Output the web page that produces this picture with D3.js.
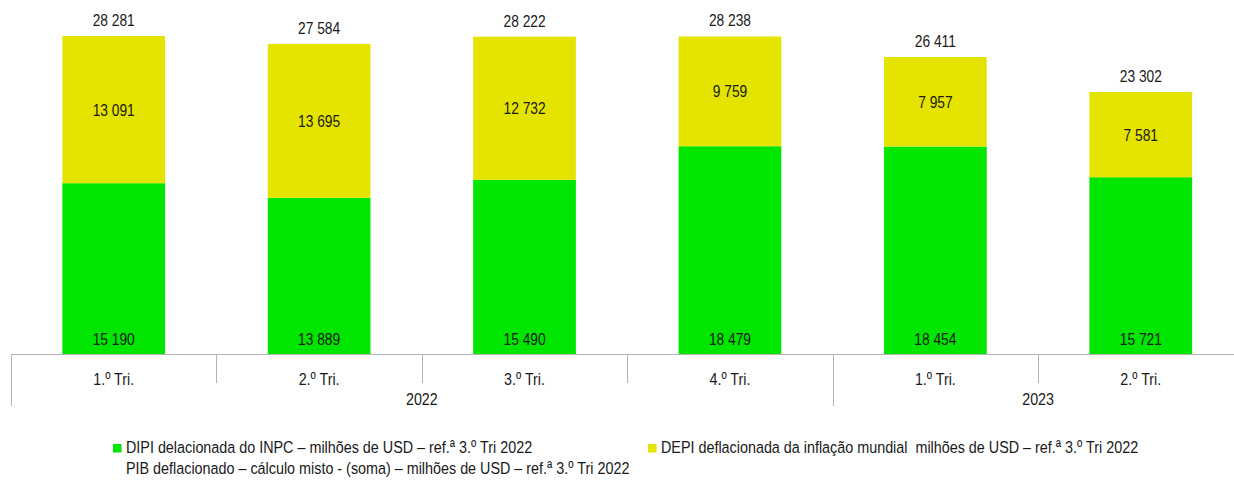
<!DOCTYPE html>
<html>
<head>
<meta charset="utf-8">
<script src="https://cdn.jsdelivr.net/npm/d3@7"></script>
<style>
  html, body { margin: 0; padding: 0; background: #fff; }
  svg { display: block; font-family: "Liberation Sans", Arial, sans-serif; }
  text { white-space: pre; }
</style>
</head>
<body>
<svg id="chart" width="1234" height="482"></svg>
<script>
// Quarterly data
const quarters = ["1.º Tri.", "2.º Tri.", "3.º Tri.", "4.º Tri.", "1.º Tri.", "2.º Tri."];
const years = ["2022", "2022", "2022", "2022", "2023", "2023"];
const dipi = [15190, 13889, 15490, 18479, 18454, 15721];
const depi = [13091, 13695, 12732, 9759, 7957, 7581];
const pib = [28281, 27584, 28222, 28238, 26411, 23302];

const seriesNames = [
  "DIPI delacionada do INPC – milhões de USD – ref.ª 3.º Tri 2022",
  "DEPI deflacionada da inflação mundial  milhões de USD – ref.ª 3.º Tri 2022",
  "PIB deflacionado – cálculo misto - (soma) – milhões de USD – ref.ª 3.º Tri 2022"
];
const colors = { dipi: "#00e600", depi: "#e4e400" };

const svg = d3.select("#chart");
const fmt = v => d3.format(",")(v).replace(/,/g, " ");

// draw a condensed text item anchored at (tx, ty)
function label(parent, tx, ty, str, anchor, squeeze) {
  return parent.append("g").attr("transform", `translate(${tx},${ty}) scale(${squeeze || 0.84},1)`)
    .append("text").attr("text-anchor", anchor || "middle")
    .attr("font-size", 17).attr("fill", "#1a1a1a").text(str);
}

const left = 11, right = 1243.5, base = 354;
const x = d3.scaleBand().domain(d3.range(quarters.length)).range([left, right]).paddingInner(0.5).paddingOuter(0.25);
const band = (right - left) / quarters.length;
const y = d3.scaleLinear().domain([0, 28281]).range([base, 36]);

const g = svg.append("g");

// stacked bars
const stackData = quarters.map((q, i) => ({ i, dipi: dipi[i], depi: depi[i] }));
const stacked = d3.stack().keys(["dipi", "depi"])(stackData);

g.selectAll("g.layer").data(stacked).join("g")
  .attr("class", "layer")
  .attr("fill", d => colors[d.key])
  .selectAll("rect").data(d => d).join("rect")
  .attr("x", d => x(d.data.i))
  .attr("width", x.bandwidth())
  .attr("y", d => y(d[1]))
  .attr("height", d => y(d[0]) - y(d[1]));

// value labels
const lab = svg.append("g");
quarters.forEach((q, i) => {
  const cx = x(i) + x.bandwidth() / 2;
  label(lab, cx, y(0) - 9, fmt(dipi[i]), "middle", 0.81);
  label(lab, cx, (y(dipi[i]) + y(dipi[i] + depi[i])) / 2 + 6, fmt(depi[i]), "middle", 0.81);
  label(lab, cx, y(pib[i]) - 10, fmt(pib[i]), "middle", 0.81);
});

// category axis
const ax = svg.append("g");
ax.append("line").attr("x1", left).attr("x2", 1234).attr("y1", base + 0.5).attr("y2", base + 0.5)
  .attr("stroke", "#b3b3b3").attr("stroke-width", 1);
const bounds = d3.range(quarters.length + 1).map(k => left + k * band);
bounds.forEach((bx, k) => {
  const yearEdge = k === 0 || k === quarters.length || years[k] !== years[k - 1];
  ax.append("line").attr("x1", Math.round(bx) + 0.5).attr("x2", Math.round(bx) + 0.5)
    .attr("y1", base).attr("y2", yearEdge ? 406 : 383)
    .attr("stroke", "#b3b3b3").attr("stroke-width", 1);
});
quarters.forEach((q, i) => label(ax, left + (i + 0.5) * band, 385, q));
const yearGroups = d3.groups(d3.range(quarters.length), i => years[i]);
yearGroups.forEach(([yr, idx]) => {
  const cx = left + (d3.min(idx) + d3.max(idx) + 1) / 2 * band;
  label(ax, cx, 405, yr);
});

// legend
const leg = svg.append("g");
const legItems = [
  { name: seriesNames[0], color: colors.dipi, lx: 113, ly: 453 },
  { name: seriesNames[1], color: colors.depi, lx: 648, ly: 453 },
  { name: seriesNames[2], color: null, lx: 113, ly: 474 }
];
legItems.forEach(d => {
  if (d.color) leg.append("rect").attr("x", d.lx).attr("y", d.ly - 9).attr("width", 8.5).attr("height", 8.5).attr("fill", d.color);
  label(leg, d.lx + 13, d.ly, d.name, "start", 0.845);
});
</script>
</body>
</html>
